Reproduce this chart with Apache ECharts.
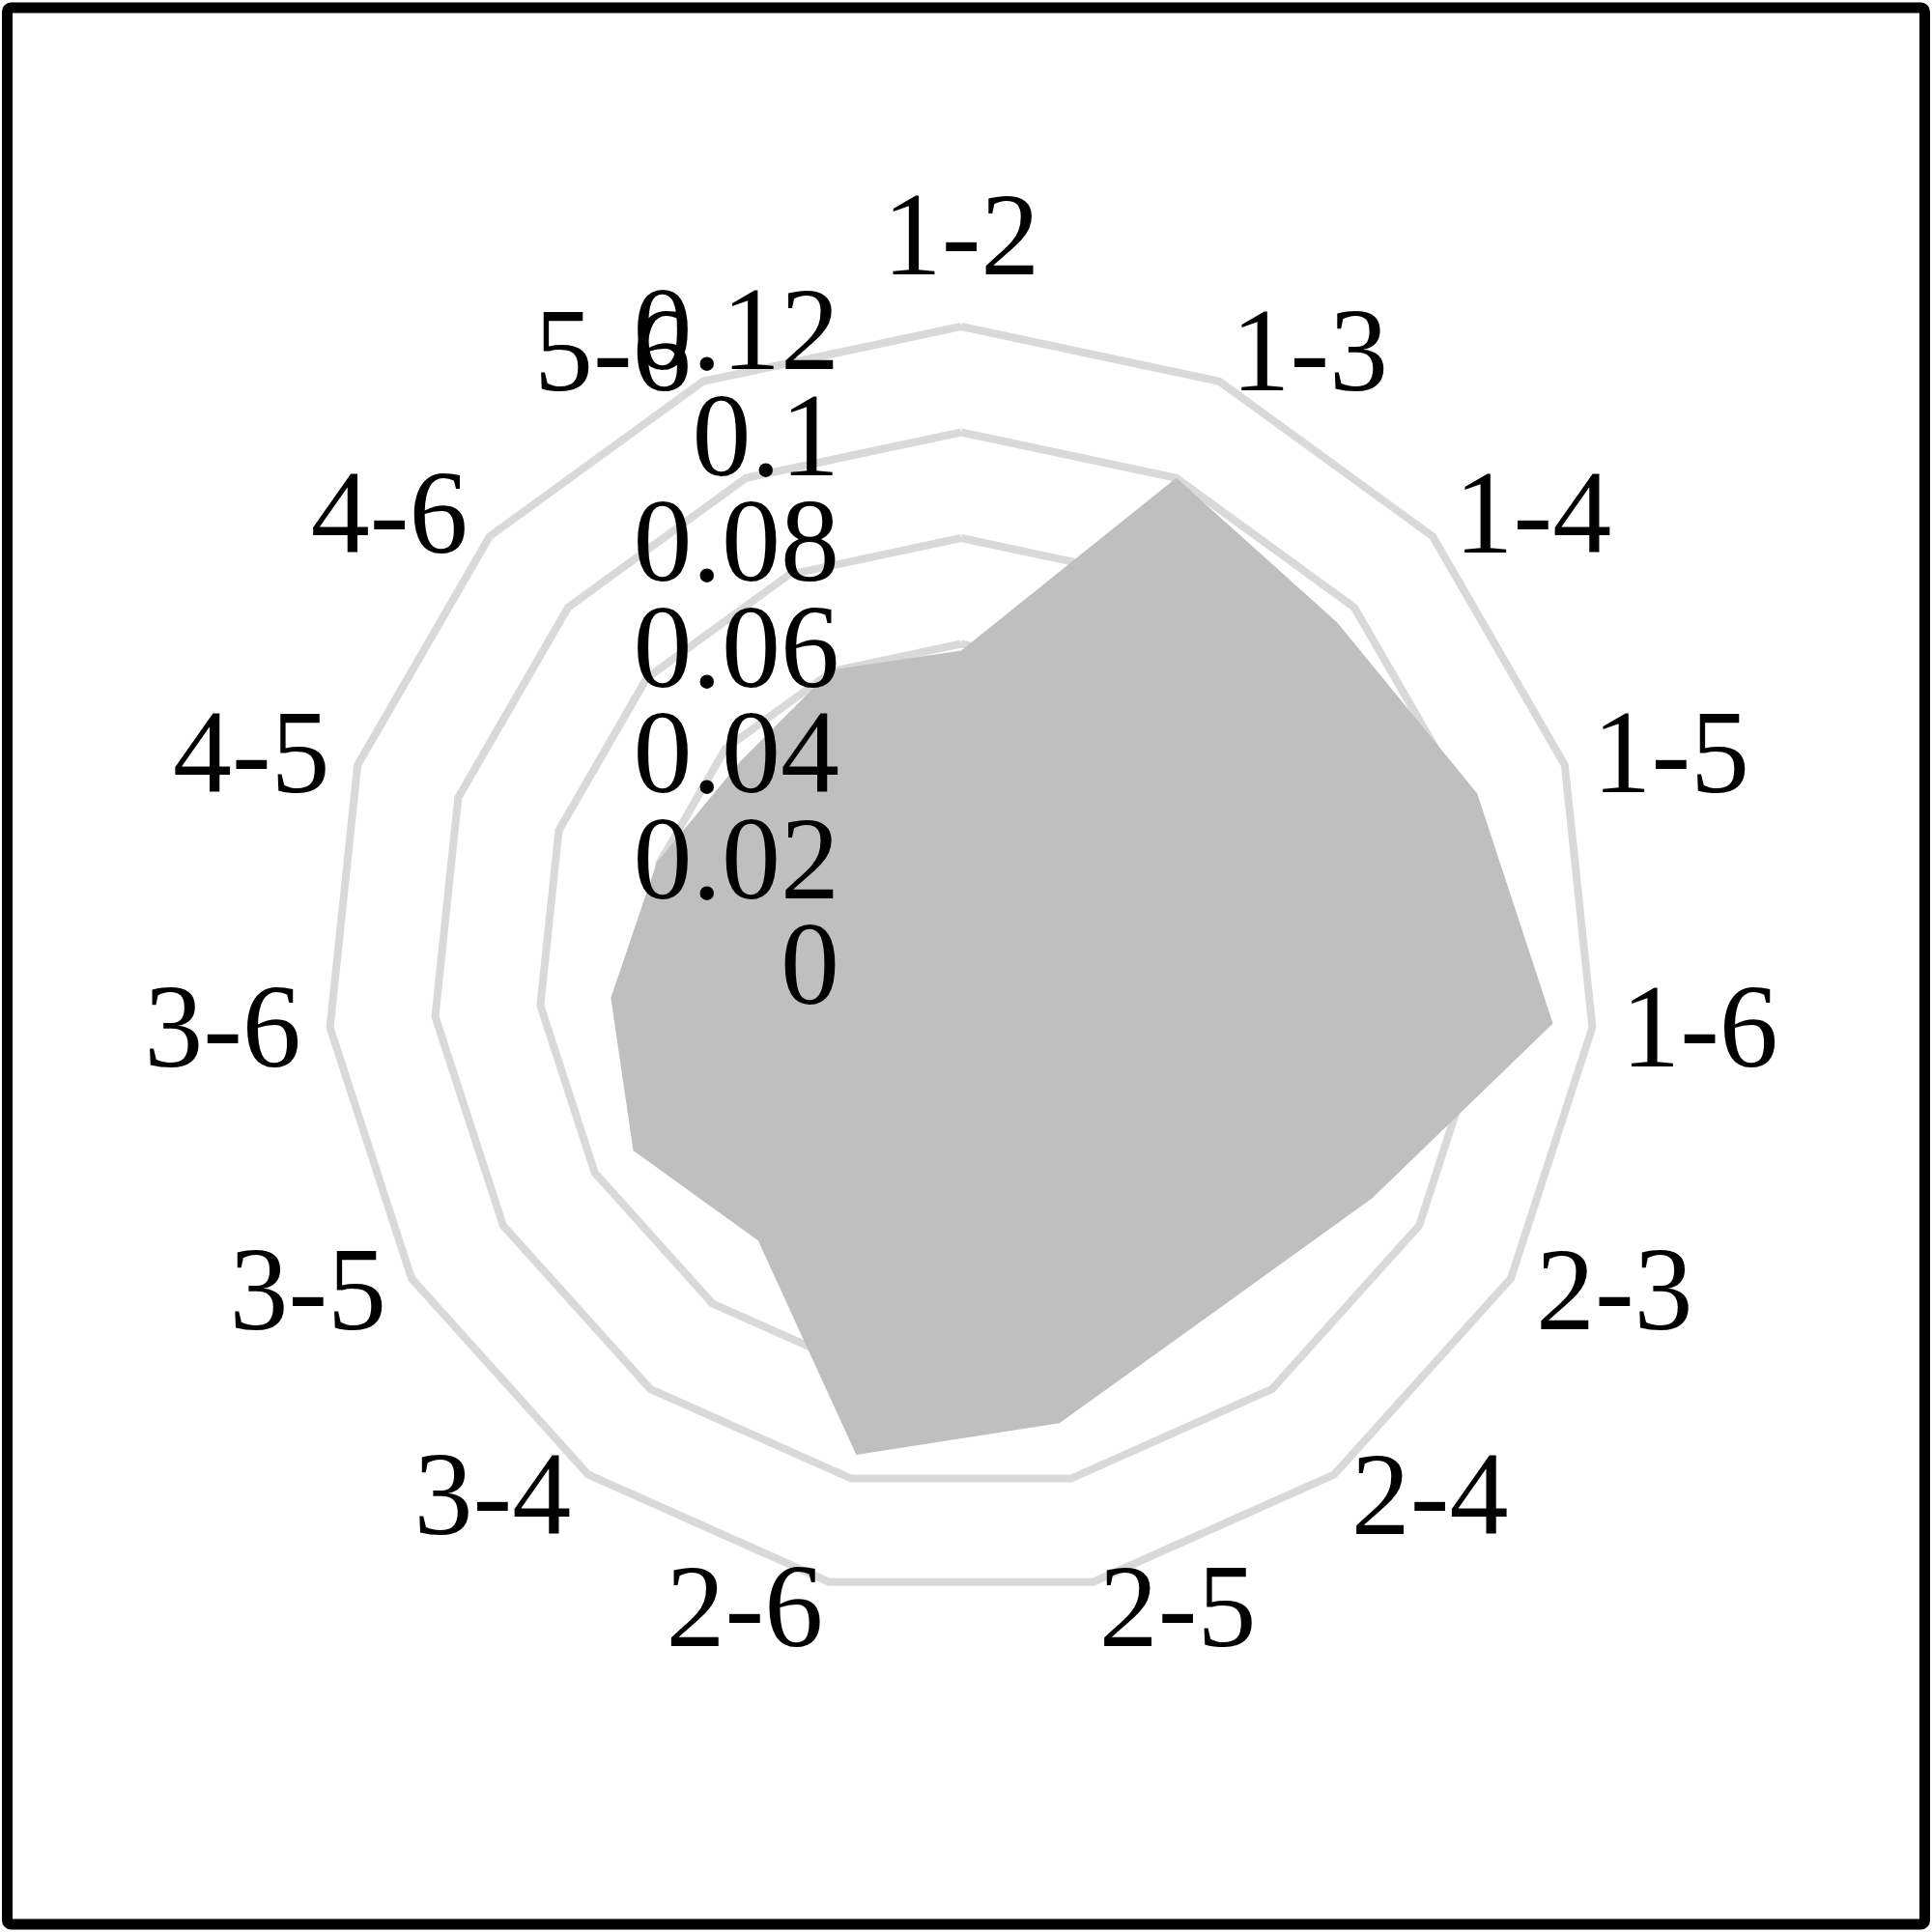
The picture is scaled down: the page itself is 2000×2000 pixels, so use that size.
<!DOCTYPE html>
<html>
<head>
<meta charset="utf-8">
<script src="https://cdn.jsdelivr.net/npm/echarts@6/dist/echarts.min.js"></script>
<style>
  html, body { margin: 0; padding: 0; background: #fff; }
  #main { width: 2000px; height: 2000px; }
</style>
</head>
<body>
<div id="main"></div>
<script>
// pairs, clockwise from the top
const pairs = ['1-2', '1-3', '1-4', '1-5', '1-6', '2-3', '2-4', '2-5', '2-6',
               '3-4', '3-5', '3-6', '4-5', '4-6', '5-6']
const values = [0.0587, 0.1, 0.0957, 0.1026, 0.1125, 0.0897, 0.0818, 0.0893, 0.0954,
                0.0653, 0.0716, 0.0666, 0.0605, 0.0563, 0.0603]
const axisMax = 0.12
const axisStep = 0.02

// echarts lays radar axes out counter-clockwise, so walk the list backwards after the first
const order = [0]
for (let i = pairs.length - 1; i > 0; i--) order.push(i)

const font = '"Liberation Serif", "Times New Roman", serif'

// the tick labels overlap each other, and echarts drops a label that collides with
// the min/max one, so they are split over two label-only radars (even / odd ticks)
const tickIndex = v => Math.round(v / axisStep)
const labelIndicators = (parity, edges) => order.map((idx, k) => {
  const ind = { name: pairs[idx], min: 0, max: axisMax }
  if (k === 0) {
    ind.axisLabel = {
      show: true,
      color: '#000',
      fontSize: 122,
      fontFamily: font,
      margin: 126,
      showMinLabel: edges,
      showMaxLabel: edges,
      formatter: v => (tickIndex(v) % 2 === parity ? String(+v.toFixed(2)) : '')
    }
  }
  return ind
})

const myChart = echarts.init(document.getElementById('main'), null, { renderer: 'canvas' })

const baseRadar = {
  center: [995, 995],
  radius: 657,
  startAngle: 90,
  shape: 'polygon',
  splitNumber: axisMax / axisStep,
  axisLine: { show: false },
  axisTick: { show: false },
  axisLabel: { show: false },
  splitArea: { show: false }
}

const labelRadar = (parity, edges) => Object.assign({}, baseRadar, {
  center: [995, 1007],
  z: 10,
  indicator: labelIndicators(parity, edges),
  axisName: { show: false },
  splitLine: { show: false }
})

const option = {
  animation: false,
  backgroundColor: '#fff',
  graphic: [{
    type: 'rect',
    shape: { x: 7.5, y: 8, width: 1985, height: 1984, r: 4 },
    style: { fill: 'none', stroke: '#000', lineWidth: 11 },
    z: 100
  }],
  radar: [
    // rings, under the area
    Object.assign({}, baseRadar, {
      indicator: order.map(idx => ({ name: pairs[idx], min: 0, max: axisMax })),
      axisName: { show: false },
      splitLine: { lineStyle: { color: '#d9d9d9', width: 8 } }
    }),
    // pair names
    Object.assign({}, baseRadar, {
      center: [995, 1000],
      indicator: order.map(idx => ({ name: pairs[idx], min: 0, max: axisMax })),
      axisName: { color: '#000', fontSize: 122, fontFamily: font },
      nameGap: 30,
      splitLine: { show: false }
    }),
    // value labels, over the area
    labelRadar(0, true),
    labelRadar(1, false)
  ],
  series: [{
    type: 'radar',
    radarIndex: 0,
    symbol: 'none',
    lineStyle: { width: 0 },
    areaStyle: { color: '#bfbfbf', opacity: 1 },
    data: [{ value: order.map(i => values[i]) }]
  }]
}

myChart.setOption(option)
</script>
</body>
</html>
